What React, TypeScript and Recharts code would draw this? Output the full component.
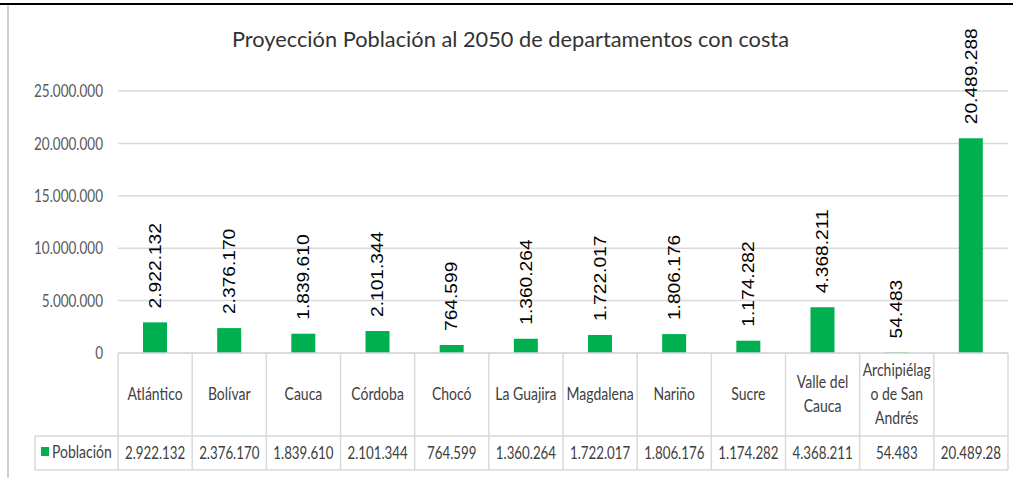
import React from 'react';
import { BarChart, Bar, XAxis, YAxis, CartesianGrid, LabelList, Customized } from 'recharts';

const categories = ['Atlántico', 'Bolívar', 'Cauca', 'Córdoba', 'Chocó', 'La Guajira', 'Magdalena', 'Nariño', 'Sucre', 'Valle del Cauca', 'Archipiélago de San Andrés', ''];
const headerLines = [['Atlántico'], ['Bolívar'], ['Cauca'], ['Córdoba'], ['Chocó'], ['La Guajira'], ['Magdalena'], ['Nariño'], ['Sucre'], ['Valle del', 'Cauca'], ['Archipiélag', 'o de San', 'Andrés'], []];
const poblacion = [2922132, 2376170, 1839610, 2101344, 764599, 1360264, 1722017, 1806176, 1174282, 4368211, 54483, 20489288];
const tableValues = ['2.922.132', '2.376.170', '1.839.610', '2.101.344', '764.599', '1.360.264', '1.722.017', '1.806.176', '1.174.282', '4.368.211', '54.483', '20.489.28'];
const yTicks = [0, 5000000, 10000000, 15000000, 20000000, 25000000];
const seriesName = 'Población';
const title = 'Proyección Población al 2050 de departamentos con costa';

const data = categories.map((name, i) => ({ name, value: poblacion[i] }));

const W = 1013;
const H = 478;
const X_AXIS_H = 125;
const M = { top: 91, right: 5, bottom: 0, left: 8 };
const Y_AXIS_W = 110;
const PLOT_LEFT = M.left + Y_AXIS_W;
const PLOT_W = W - PLOT_LEFT - M.right;
const COL_W = PLOT_W / categories.length;
const GREEN = '#00B050';
const BORDER = '#d9d9d9';
const TXT = '#404040';
const CAL = "Lato, 'Open Sans', sans-serif";

const fmt = (n: number) => String(Math.round(n)).replace(/\B(?=(\d{3})+(?!\d))/g, '.');

const SText = ({ x, y, children, anchor = 'middle', size = 13.5, fill = TXT }: any) => (
  <text transform={`translate(${x},${y}) scale(1,1.3)`} textAnchor={anchor} dy="0.35em" fontSize={size} fontFamily={CAL} fill={fill}>
    {children}
  </text>
);

const YTick = (props: any) => {
  const { x, y, payload } = props;
  return <SText x={x} y={y} anchor="end" size={13.5} fill="#595959">{fmt(payload.value)}</SText>;
};

const TableTick = (props: any) => {
  const { x, y, index } = props;
  const half = COL_W / 2;
  const lines = headerLines[index] || [];
  const n = lines.length;
  const rowDiv = y + 83;
  const bottom = y + 117;
  const last = index === categories.length - 1;
  return (
    <g>
      <line x1={x - half} x2={x - half} y1={y} y2={bottom} stroke={BORDER} strokeWidth={1.5} />
      {last && <line x1={x + half} x2={x + half} y1={y} y2={bottom} stroke={BORDER} strokeWidth={1.5} />}
      <line x1={x - half} x2={x + half} y1={rowDiv} y2={rowDiv} stroke={BORDER} strokeWidth={1.5} />
      <line x1={x - half} x2={x + half} y1={bottom} y2={bottom} stroke={BORDER} strokeWidth={1.5} />
      {lines.map((t: string, k: number) => (
        <SText key={k} x={x} y={y + 41 - ((n - 1) * 24) / 2 + k * 24} size={14}>{t}</SText>
      ))}
      <SText x={x} y={y + 100} size={13.3}>{tableValues[index]}</SText>
      {index === 0 && (
        <g>
          <line x1={x - half - 83} x2={x - half} y1={rowDiv} y2={rowDiv} stroke={BORDER} strokeWidth={1.5} />
          <line x1={x - half - 83} x2={x - half} y1={bottom} y2={bottom} stroke={BORDER} strokeWidth={1.5} />
          <line x1={x - half - 83} x2={x - half - 83} y1={rowDiv} y2={bottom} stroke={BORDER} strokeWidth={1.5} />
          <rect x={x - half - 77} y={y + 94} width={8} height={9} fill={GREEN} />
          <SText x={x - half - 66} y={y + 99} anchor="start" size={14}>{seriesName}</SText>
        </g>
      )}
    </g>
  );
};

const BarValueLabel = (props: any) => {
  const { x, y, width, value } = props;
  const cx = x + width / 2;
  return (
    <text transform={`translate(${cx},${y - 14}) rotate(-90) scale(1.2,1)`} dy="0.36em" fontSize={16} fontFamily="'Liberation Sans', Arial, sans-serif" fill="#000">
      {fmt(value)}
    </text>
  );
};

const Title = () => (
  <text x={W / 2 + 4} y={47} textAnchor="middle" fontSize={21} fontFamily={CAL} fill="#333" textLength={557} lengthAdjust="spacingAndGlyphs">
    {title}
  </text>
);

export default function App() {
  return (
    <div style={{ position: 'absolute', left: 0, top: 0, width: W, height: H, background: '#fff' }}>
      <div style={{ position: 'absolute', left: 0, top: 3, width: W, height: 2, background: '#000' }} />
      <div style={{ position: 'absolute', left: 7, top: 5, width: 1.5, height: H - 5, background: '#d0d0d0' }} />
      <BarChart width={W} height={H} data={data} margin={M} barCategoryGap={0}>
        <CartesianGrid vertical={false} stroke={BORDER} strokeWidth={1.5} />
        <XAxis dataKey="name" interval={0} height={X_AXIS_H} tickLine={false} tickSize={0} tickMargin={0} axisLine={{ stroke: BORDER, strokeWidth: 1.5 }} tick={<TableTick />} />
        <YAxis width={Y_AXIS_W} domain={[0, 25000000]} ticks={yTicks} axisLine={false} tickLine={false} tickSize={0} tickMargin={15} tick={<YTick />} />
        <Bar dataKey="value" name={seriesName} fill={GREEN} barSize={24} isAnimationActive={false}>
          <LabelList dataKey="value" content={<BarValueLabel />} />
        </Bar>
        <Customized component={<Title />} />
      </BarChart>
    </div>
  );
}
